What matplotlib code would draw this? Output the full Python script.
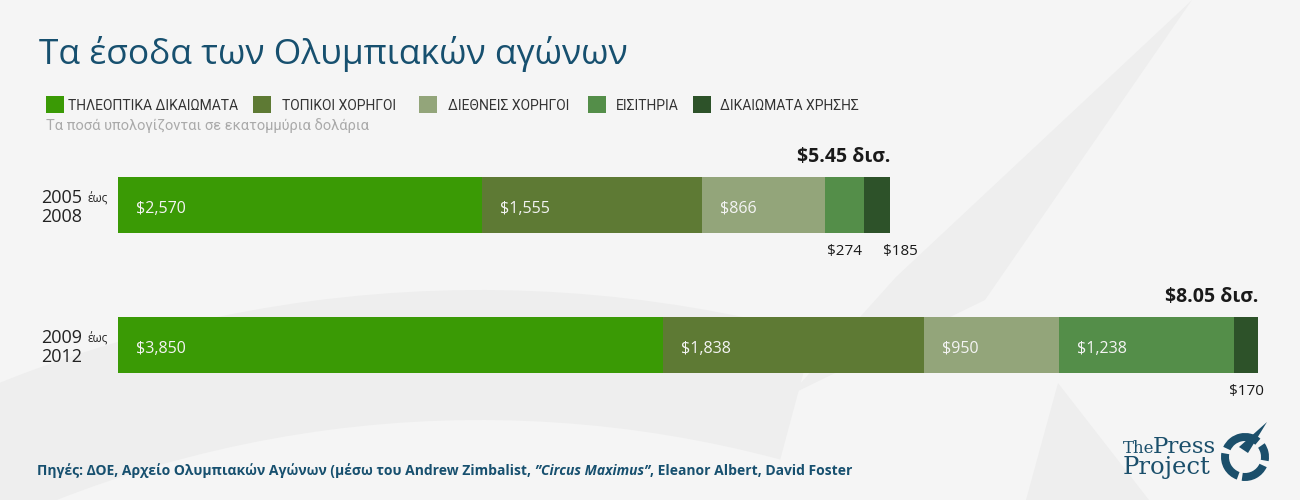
import matplotlib.pyplot as plt
from matplotlib.patches import Rectangle, Polygon, Wedge

# data (millions of dollars)
period_start = ["2005", "2009"]
period_end = ["2008", "2012"]
categories = ["ΤΗΛΕΟΠΤΙΚΑ ΔΙΚΑΙΩΜΑΤΑ", "ΤΟΠΙΚΟΙ ΧΟΡΗΓΟΙ", "ΔΙΕΘΝΕΙΣ ΧΟΡΗΓΟΙ",
              "ΕΙΣΙΤΗΡΙΑ", "ΔΙΚΑΙΩΜΑΤΑ ΧΡΗΣΗΣ"]
tv_rights = [2570, 3850]
local_sponsors = [1555, 1838]
intl_sponsors = [866, 950]
tickets = [274, 1238]
licensing = [185, 170]
totals = ["$5.45 δισ.", "$8.05 δισ."]

series = [tv_rights, local_sponsors, intl_sponsors, tickets, licensing]
colors = ["#3a9a05", "#5e7a34", "#93a57a", "#548e49", "#2d5229"]
blue = "#17506f"
bg_col = "#f5f5f5"

fig = plt.figure(figsize=(13, 5), dpi=100, facecolor=bg_col)

# full-figure layer for texts/decoration, in pixel units
bg = fig.add_axes([0, 0, 1, 1], zorder=0)
bg.set_xlim(0, 1300)
bg.set_ylim(500, 0)
bg.axis("off")

# faint watermark
wm = "#eeeeee"
bg.add_patch(Wedge((480, 1580), 1290, 240, 285, width=130, color=wm, lw=0))
bg.add_patch(Polygon([(1192, 0), (896, 277), (790, 395), (985, 300)], color=wm, lw=0))
bg.add_patch(Polygon([(1058, 383), (1026, 500), (1149, 500)], color=wm, lw=0))

# title
bg.text(39, 64, "Τα έσοδα των Ολυμπιακών αγώνων", family="Open Sans",
        fontsize=25.5, color=blue, va="baseline")

# legend
sq_x = [46, 253, 419, 588, 693]
txt_x = [68, 282, 448, 616, 720]
for i, cat in enumerate(categories):
    bg.add_patch(Rectangle((sq_x[i], 96), 18, 17, color=colors[i], lw=0))
    bg.text(txt_x[i], 110, cat, family="Roboto", fontsize=10, color="#333333",
            va="baseline")
bg.text(46, 130, "Τα ποσά υπολογίζονται σε εκατομμύρια δολάρια", family="Roboto",
        fontsize=10.5, color="#aaaaaa", va="baseline")

# bars
ax = fig.add_axes([118 / 1300, 0.17, 1140 / 1300, 0.56], zorder=1)
ax.patch.set_alpha(0)
ypos = list(range(len(period_start)))
sums = [sum(s[i] for s in series) for i in ypos]
ax.set_xlim(0, max(sums))
ax.set_ylim(1.5, -0.5)
ax.axis("off")

nudge = {(0, 4): 23}
lefts = [0] * len(ypos)
for k, vals in enumerate(series):
    ax.barh(ypos, vals, left=lefts, height=0.4, color=colors[k], lw=0)
    for i, v in enumerate(vals):
        if v >= 500:
            ax.annotate(f"${v:,}", xy=(lefts[i], i), xytext=(18, -8),
                        textcoords="offset pixels", family="Open Sans",
                        fontsize=11.5, color="#f4f4f4", va="baseline", ha="left")
        else:
            ax.annotate(f"${v:,}", xy=(lefts[i] + v / 2, i),
                        xytext=(nudge.get((i, k), 0), -50),
                        textcoords="offset pixels", family="Open Sans",
                        fontsize=11, color="#1a1a1a", va="baseline", ha="center")
    lefts = [lefts[i] + vals[i] for i in ypos]

for i in ypos:
    ax.annotate(totals[i], xy=(sums[i], i), xytext=(0, 43),
                textcoords="offset pixels", family="Open Sans", fontsize=14,
                fontweight="bold", color="#1a1a1a", va="baseline", ha="right")
    ax.annotate(period_start[i], xy=(0, i), xytext=(-77, 2),
                textcoords="offset pixels", family="Open Sans", fontsize=13,
                color="#222222", va="baseline")
    ax.annotate("έως", xy=(0, i), xytext=(-31, 2),
                textcoords="offset pixels", family="Open Sans", fontsize=8.5,
                color="#222222", va="baseline")
    ax.annotate(period_end[i], xy=(0, i), xytext=(-77, -17),
                textcoords="offset pixels", family="Open Sans", fontsize=13,
                color="#222222", va="baseline")

# footer source line
foot = dict(family="Open Sans", fontsize=10, fontweight="bold", color=blue)
t1 = bg.text(37, 475, "Πηγές: ΔΟΕ, Αρχείο Ολυμπιακών Αγώνων (μέσω του Andrew Zimbalist,",
             va="baseline", **foot)
t2 = bg.annotate("\u201dCircus Maximus\u201d", xy=(1, 0), xycoords=t1, xytext=(4, 0),
                 textcoords="offset pixels", va="bottom", style="italic", **foot)
bg.annotate(", Eleanor Albert, David Foster", xy=(1, 0), xycoords=t2,
            va="bottom", **foot)

# logo
logo = "#1b4f6b"
bg.text(1123, 453, "The", family="DejaVu Serif", fontsize=12, color=logo, va="baseline")
bg.text(1153, 453, "Press", family="DejaVu Serif", fontsize=16.5, color=logo, va="baseline")
bg.text(1123, 474, "Project", family="DejaVu Serif", fontsize=17.5, color=logo, va="baseline")
for a, b in [(50, 155), (170, 250), (262, 335), (350, 395)]:
    bg.add_patch(Wedge((1245, 457), 24, -b, -a, width=8, color=logo, lw=0))
bg.add_patch(Polygon([(1267, 422), (1239, 447), (1248, 453)], color=logo, lw=0))

fig.savefig("out.png", dpi=100, facecolor=bg_col)
